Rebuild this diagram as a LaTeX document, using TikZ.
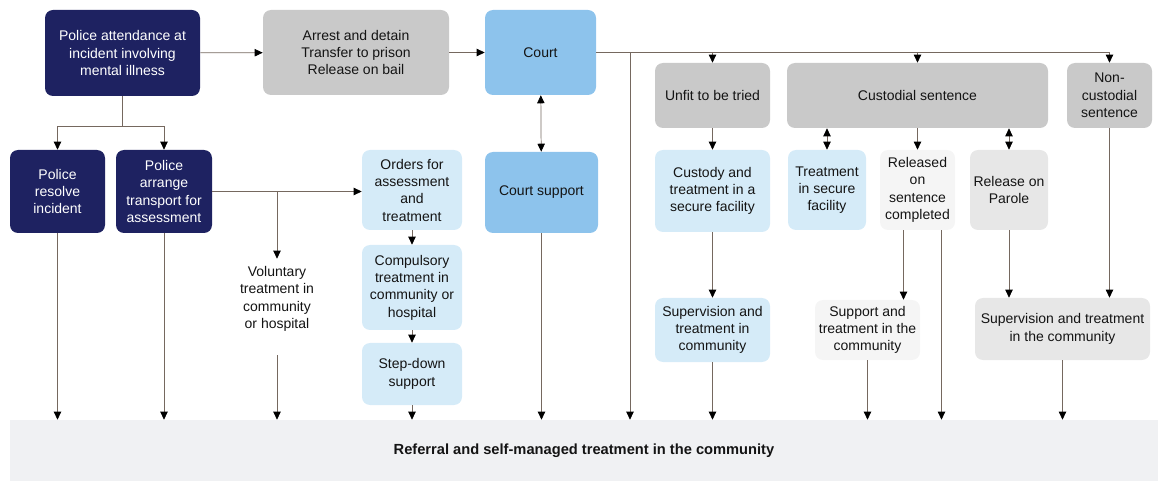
\documentclass[tikz,border=0pt]{standalone}
\usepackage{fontspec}
\setmainfont{Liberation Sans}
\usetikzlibrary{arrows.meta,positioning,calc}
\definecolor{MHNavy}{HTML}{1E2261}
\definecolor{MHGrey}{HTML}{C9C9C9}
\definecolor{MHBlue}{HTML}{8DC3EC}
\definecolor{MHPale}{HTML}{D5EBF8}
\definecolor{MHLight}{HTML}{E7E7E7}
\definecolor{MHWhite}{HTML}{F5F5F5}
\definecolor{MHBand}{HTML}{F0F1F3}
\definecolor{MHLine}{HTML}{75685F}
\definecolor{MHInk}{HTML}{141414}
\tikzset{
  flow/.style={-{Triangle[length=6pt,width=5.5pt,color=black]},draw=MHLine,line width=0.55pt},
  flowboth/.style={flow,{Triangle[length=6pt,width=5.5pt,color=black]}-{Triangle[length=6pt,width=5.5pt,color=black]}},
  bus/.style={draw=MHLine,line width=0.55pt},
  box/.style={rounded corners=6pt,align=center,inner sep=2pt,text=MHInk,
              font=\fontsize{10.5}{13}\selectfont},
  boxnavy/.style={box,fill=MHNavy,text=white},
  boxgrey/.style={box,fill=MHGrey},
  boxblue/.style={box,fill=MHBlue},
  boxpale/.style={box,fill=MHPale},
  boxlight/.style={box,fill=MHLight},
  boxwhite/.style={box,fill=MHWhite},
  band/.style={fill=MHBand,text=MHInk,font=\fontsize{11}{13}\selectfont\bfseries},
}

\begin{document}
\begin{tikzpicture}[x=0.75pt,y=-0.75pt]
    \useasboundingbox (0,0) rectangle (1158,481);

    \node[band,minimum width=861pt,minimum height=45.75pt] (community) at (584,450.5)
      {Referral and self-managed treatment in the community};

    \node[boxnavy,minimum width=116.25pt,minimum height=64.5pt] (attend) at (122.5,53)
      {Police attendance at\\incident involving\\mental illness};
    \node[boxgrey,minimum width=139.5pt,minimum height=63.75pt] (arrest) at (356,52.5)
      {Arrest and detain\\Transfer to prison\\Release on bail};
    \node[boxblue,minimum width=83.25pt,minimum height=63.75pt] (court) at (540.5,52.5) {Court};

    \node[boxnavy,minimum width=71.25pt,minimum height=62.25pt] (resolve) at (57.5,191.5)
      {Police\\resolve\\incident};
    \node[boxnavy,minimum width=72pt,minimum height=62.25pt] (arrange) at (164,191.5)
      {Police\\arrange\\transport for\\assessment};
    \node[box,fill=white,minimum width=63.75pt,minimum height=60pt] (voluntary) at (277,299)
      {Voluntary\\treatment in\\community\\or hospital};

    \node[boxpale,minimum width=75pt,minimum height=60pt] (orders) at (412,190)
      {Orders for\\assessment\\and\\treatment};
    \node[boxpale,minimum width=75pt,minimum height=63.75pt] (compulsory) at (412,287.5)
      {Compulsory\\treatment in\\community or\\hospital};
    \node[boxpale,minimum width=75pt,minimum height=46.5pt] (stepdown) at (412,374)
      {Step-down\\support};
    \node[boxblue,minimum width=84.75pt,minimum height=60.75pt] (courtsup) at (541.5,192.5)
      {Court support};

    \node[boxgrey,minimum width=86.25pt,minimum height=48.75pt] (unfit) at (712.5,95.5)
      {Unfit to be tried};
    \node[boxgrey,minimum width=195.75pt,minimum height=48.75pt] (custodial) at (917.5,95.5)
      {Custodial sentence};
    \node[boxgrey,minimum width=63.75pt,minimum height=48.75pt] (noncust) at (1109.5,95.5)
      {Non-\\custodial\\sentence};

    \node[boxpale,minimum width=86.25pt,minimum height=61.5pt] (custody) at (712.5,191)
      {Custody and\\treatment in a\\secure facility};
    \node[boxpale,minimum width=58.5pt,minimum height=60pt] (secure) at (827,190)
      {Treatment\\in secure\\facility};
    \node[boxwhite,minimum width=56.25pt,minimum height=60pt] (released) at (917.5,190)
      {Released\\on\\sentence\\completed};
    \node[boxlight,minimum width=58.5pt,minimum height=60pt] (parole) at (1009,190)
      {Release on\\Parole};

    \node[boxpale,minimum width=86.25pt,minimum height=48pt] (supunfit) at (712.5,330)
      {Supervision and\\treatment in\\community};
    \node[boxwhite,minimum width=78.75pt,minimum height=45pt] (support) at (867.5,330)
      {Support and\\treatment in the\\community};
    \node[boxlight,minimum width=131.25pt,minimum height=46.5pt] (supright) at (1062.5,329)
      {Supervision and treatment\\in the community};

    \coordinate (policefork) at (122.5,126);
    \coordinate (volfork) at (277,191.5);
    \coordinate (courtfork) at (630,52.5);

    \draw[flow] (attend) -- (arrest);
    \draw[flow] (arrest) -- (court);
    \draw[bus] (attend) -- (policefork);
    \draw[flow] (policefork) -| (resolve);
    \draw[flow] (policefork) -| (arrange);
    \draw[flow] (arrange) -- (arrange -| orders.west);
    \draw[flow] (volfork) -- (voluntary);
    \draw[flow] (orders) -- (compulsory);
    \draw[flow] (compulsory) -- (stepdown);
    \draw[flowboth] (court) -- (courtsup);

    \draw[bus] (court.east) -- (court.east -| noncust);
    \draw[flow] (court.east -| unfit) -- (unfit);
    \draw[flow] (court.east -| custodial) -- (custodial);
    \draw[flow] (court.east -| noncust) -- (noncust);
    \draw[flow] (unfit) -- (custody);
    \draw[flow] (custody) -- (supunfit);
    \draw[flowboth] (secure |- custodial.south) -- (secure);
    \draw[flow] (released |- custodial.south) -- (released);
    \draw[flowboth] (parole |- custodial.south) -- (parole);
    \draw[flow] ($(released.south)+(-14,0)$) coordinate (relA) -- (relA |- support.north);
    \draw[flow] (parole) -- (parole |- supright.north);
    \draw[flow] (noncust) -- (noncust |- supright.north);

    \draw[flow] (resolve) -- (resolve |- community.north);
    \draw[flow] (arrange) -- (arrange |- community.north);
    \draw[flow] ($(voluntary.south)+(0,16)$) coordinate (volA) -- (volA |- community.north);
    \draw[flow] (stepdown) -- (stepdown |- community.north);
    \draw[flow] (courtsup) -- (courtsup |- community.north);
    \draw[flow] (courtfork) -- (courtfork |- community.north);
    \draw[flow] (supunfit) -- (supunfit |- community.north);
    \draw[flow] (support) -- (support |- community.north);
    \draw[flow] ($(released.south)+(24,0)$) coordinate (relB) -- (relB |- community.north);
    \draw[flow] (supright) -- (supright |- community.north);
\end{tikzpicture}
\end{document}
